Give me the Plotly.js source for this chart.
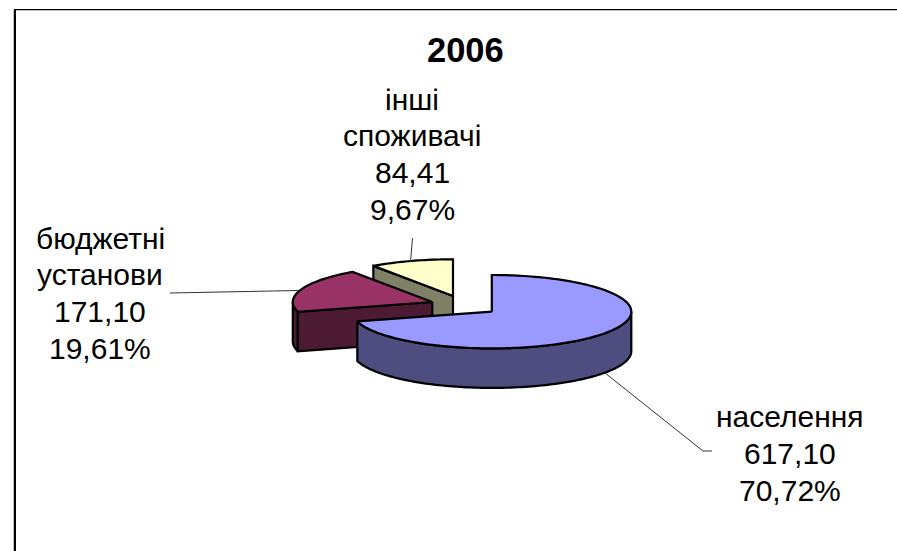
<!DOCTYPE html>
<html>
<head>
<meta charset="utf-8">
<script src="https://cdn.plot.ly/plotly-3.0.1.min.js"></script>
<style>html,body{margin:0;padding:0;background:#fff}#chart{width:897px;height:551px}</style>
</head>
<body>
<div id="chart"></div>
<script>
// ---- data ----
const chartTitle = "2006";
const categoryLines = [["населення"], ["бюджетні", "установи"], ["інші", "споживачі"]];
const values = [617.10, 171.10, 84.41];
const valueLabels = ["617,10", "171,10", "84,41"];
const percentLabels = ["70,72%", "19,61%", "9,67%"];

// ---- styling and layout of the tilted pie (not data) ----
const topColors = ["#9999ff", "#993366", "#ffffcc"];
const sideColors = ["#4d4d80", "#4d1a33", "#808066"];
const apexes = [[491.8, 311.7], [432.3, 302.0], [453, 296]];
const RX = 139.5, RY = 36.7, DEPTH = 39.5;
const labelAnchors = [[790, 416.5], [100, 238], [412, 99]];
const LINE_GAP = 36.8;
const FONT = "Liberation Sans, Arial, sans-serif";
const leaders = [
  [[605, 373], [703, 451], [712, 451]],
  [[170, 293], [298, 290.5]],
  [[412.5, 238], [410.5, 262]]
];

// ---- geometry from values ----
const total = values.reduce((a, b) => a + b, 0);
let acc = 0;
const spans = values.map(v => { const s = acc; acc += v / total * 360; return [s, acc]; });
const rad = d => d * Math.PI / 180;
const rim = (c, t, dy = 0) => [c[0] + RX * Math.sin(rad(t)), c[1] - RY * Math.cos(rad(t)) + dy];
function arc(c, a, b, dy = 0) {
  const n = Math.max(2, Math.ceil(Math.abs(b - a) / 1.5));
  const out = [];
  for (let i = 0; i <= n; i++) out.push(rim(c, a + (b - a) * i / n, dy));
  return out;
}
function poly(points, fill) {
  const closed = points.concat([points[0]]);
  return {
    type: "scatter", mode: "lines", fill: "toself", fillcolor: fill,
    x: closed.map(p => p[0]), y: closed.map(p => p[1]),
    line: { color: "#000", width: 2.2, simplify: false },
    hoverinfo: "skip", showlegend: false
  };
}
const topFace = i => poly([apexes[i]].concat(arc(apexes[i], spans[i][0], spans[i][1])), topColors[i]);
function rimFace(i, a, b) {
  const c = apexes[i];
  return poly(arc(c, a, b).concat(arc(c, b, a, DEPTH)), sideColors[i]);
}
function radialFace(i, t) {
  const c = apexes[i], e = rim(c, t);
  return poly([c, e, [e[0], e[1] + DEPTH], [c[0], c[1] + DEPTH]], sideColors[i]);
}

const traces = [
  radialFace(2, spans[2][0]),
  topFace(2),
  rimFace(1, spans[1][0], 270),
  radialFace(1, spans[1][0]),
  topFace(1),
  rimFace(0, 90, spans[0][1]),
  topFace(0)
];

// ---- texts ----
const annotations = [{
  text: "<b>" + chartTitle + "</b>", x: 465, y: 49.5, xref: "x", yref: "y", showarrow: false,
  xanchor: "center", yanchor: "middle", font: { family: FONT, size: 34.5, color: "#000" }
}];
categoryLines.forEach((lines, i) => {
  lines.concat([valueLabels[i], percentLabels[i]]).forEach((t, k) => {
    annotations.push({
      text: t, x: labelAnchors[i][0], y: labelAnchors[i][1] + k * LINE_GAP, xref: "x", yref: "y",
      showarrow: false, xanchor: "center", yanchor: "middle",
      font: { family: FONT, size: 30, color: "#000" }
    });
  });
});

// ---- frame + leader lines ----
const line = (x0, y0, x1, y1, color, width) => ({
  type: "line", xref: "x", yref: "y", x0, y0, x1, y1, line: { color, width }
});
const shapes = [
  line(13.5, 10, 13.5, 551, "#c0c0c0", 1),
  line(14, 10.5, 897, 10.5, "#c0c0c0", 1),
  line(15, 9, 15, 551, "#000", 2),
  line(14, 9.5, 897, 9.5, "#000", 1)
];
leaders.forEach(pts => {
  for (let i = 0; i + 1 < pts.length; i++)
    shapes.push(line(pts[i][0], pts[i][1], pts[i + 1][0], pts[i + 1][1], "#333", 1));
});

const hidden = { visible: false, fixedrange: true };
Plotly.newPlot("chart", traces, {
  width: 897, height: 551,
  margin: { l: 0, r: 0, t: 0, b: 0, pad: 0 },
  paper_bgcolor: "#fff", plot_bgcolor: "#fff",
  showlegend: false,
  xaxis: Object.assign({ range: [0, 897] }, hidden),
  yaxis: Object.assign({ range: [551, 0] }, hidden),
  annotations, shapes
}, { displayModeBar: false, staticPlot: true });
</script>
</body>
</html>
